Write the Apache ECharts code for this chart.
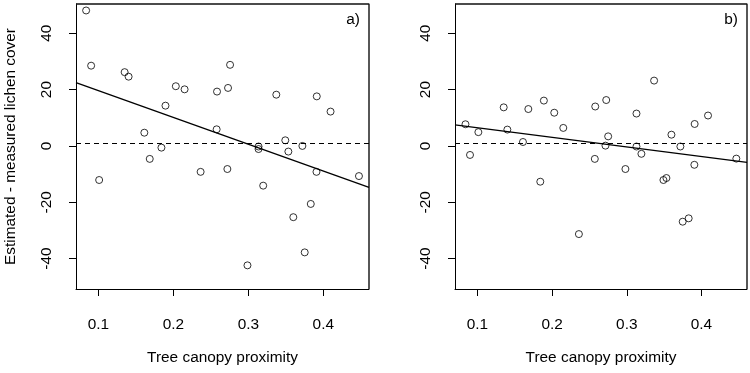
<!DOCTYPE html>
<html>
<head>
<meta charset="utf-8">
<script src="https://cdn.jsdelivr.net/npm/echarts@6/dist/echarts.min.js"></script>
<style>
html,body{margin:0;padding:0;background:#fff;}
#chart{width:750px;height:373px;}
</style>
</head>
<body>
<div id="chart"></div>
<script>
// ---- data ----
const xTicks = [0.1, 0.2, 0.3, 0.4];
const yTicks = [-40, -20, 0, 20, 40];
const xRange = [0.07, 0.461];
const yRange = [-50.8, 50.4];
const refLevel = 0.8; // dashed horizontal line

const pointsA = [
  [0.0835, 48.1], [0.0902, 28.5], [0.1009, -12.1], [0.1349, 26.2], [0.1402, 24.6],
  [0.1612, 4.7], [0.1684, -4.6], [0.1840, -0.6], [0.1894, 14.3], [0.2032, 21.2],
  [0.2149, 20.1], [0.2363, -9.2], [0.2577, 5.9], [0.2582, 19.3], [0.2720, -8.2],
  [0.2729, 20.6], [0.2756, 28.8], [0.2988, -42.4], [0.3136, -0.2], [0.3136, -1.1],
  [0.3198, -14.1], [0.3373, 18.2], [0.3493, 2.0], [0.3534, -2.0], [0.3600, -25.3],
  [0.3721, 0.0], [0.3752, -37.8], [0.3833, -20.6], [0.3909, -9.2], [0.3913, 17.6],
  [0.4097, 12.2], [0.4476, -10.7]
];
const pointsB = [
  [0.0840, 7.7], [0.0901, -3.2], [0.1013, 4.9], [0.1352, 13.7], [0.1401, 5.8],
  [0.1610, 1.4], [0.1682, 13.1], [0.1842, -12.7], [0.1890, 16.1], [0.2029, 11.8],
  [0.2150, 6.4], [0.2359, -31.3], [0.2572, -4.6], [0.2578, 14.0], [0.2715, 0.1],
  [0.2725, 16.3], [0.2751, 3.4], [0.2982, -8.2], [0.3130, 11.5], [0.3130, -0.2],
  [0.3196, -2.8], [0.3366, 23.2], [0.3491, -12.1], [0.3531, -11.4], [0.3598, 4.0],
  [0.3718, -0.2], [0.3749, -26.9], [0.3829, -25.7], [0.3905, -6.7], [0.3909, 7.8],
  [0.4088, 10.8], [0.4467, -4.5]
];
// fitted lines: end points at the plot edges
const fitA = [[0.07, 22.5], [0.461, -14.7]];
const fitB = [[0.07, 7.5], [0.461, -5.8]];

const xTitle = 'Tree canopy proximity';
const yTitle = 'Estimated - measured lichen cover';
const panelLabels = ['a)', 'b)'];

// ---- chart ----
const FONT = 'Liberation Sans, Arial, Helvetica, sans-serif';
const FS = 15.4;
const chart = echarts.init(document.getElementById('chart'), null, {renderer: 'canvas'});
const frameLine = {show: true, onZero: false, lineStyle: {color: '#000', width: 1}};

// top and right edges of the plot box, built from the axis ranges
const frameEdge = [[xRange[0], yRange[1]], [xRange[1], yRange[1]], [xRange[1], yRange[0]]];

function xAxisDef(i) {
  return {
    type: 'value', gridIndex: i, min: xRange[0], max: xRange[1], position: 'bottom',
    name: xTitle, nameLocation: 'middle', nameGap: 61,
    nameTextStyle: {color: '#000', fontFamily: FONT, fontSize: FS},
    axisLine: frameLine,
    axisTick: {show: true, inside: false, length: 7, customValues: xTicks, lineStyle: {color: '#000', width: 1}},
    axisLabel: {show: true, customValues: xTicks, margin: 28, color: '#000', fontFamily: FONT, fontSize: FS,
      formatter: v => v.toFixed(1)},
    splitLine: {show: false}
  };
}
function yAxisDef(i) {
  return {
    type: 'value', gridIndex: i, min: yRange[0], max: yRange[1], position: 'left',
    name: i === 0 ? yTitle : '', nameLocation: 'middle', nameGap: 58, nameRotate: 90,
    nameTextStyle: {color: '#000', fontFamily: FONT, fontSize: FS},
    axisLine: frameLine,
    axisTick: {show: true, inside: false, length: 7, customValues: yTicks, lineStyle: {color: '#000', width: 1}},
    axisLabel: {show: true, customValues: yTicks, rotate: 90, margin: 22, color: '#000', fontFamily: FONT, fontSize: FS},
    splitLine: {show: false}
  };
}
function scatterDef(i, data) {
  return {
    type: 'scatter', xAxisIndex: i, yAxisIndex: i, data: data,
    symbol: 'circle', symbolSize: 7,
    itemStyle: {color: 'rgba(255,255,255,0)', borderColor: '#000', borderWidth: 1},
    silent: true,
    markLine: {
      silent: true, symbol: ['none', 'none'], label: {show: false},
      lineStyle: {color: '#000', width: 1.1, type: [5, 4]},
      data: [{yAxis: refLevel}]
    }
  };
}
function fitDef(i, data) {
  return {
    type: 'line', xAxisIndex: i, yAxisIndex: i, data: data,
    symbol: 'none', silent: true, clip: false,
    lineStyle: {color: '#000', width: 1.3}
  };
}
function frameDef(i) {
  return {
    type: 'line', xAxisIndex: i, yAxisIndex: i, data: frameEdge,
    symbol: 'none', silent: true, clip: false,
    lineStyle: {color: '#111', width: 1.4}
  };
}

chart.setOption({
  animation: false,
  backgroundColor: '#fff',
  textStyle: {fontFamily: FONT},
  title: [
    {text: panelLabels[0], right: 390, top: 12, padding: 0,
      textStyle: {color: '#000', fontFamily: FONT, fontSize: FS, fontWeight: 'normal'}},
    {text: panelLabels[1], right: 12, top: 12, padding: 0,
      textStyle: {color: '#000', fontFamily: FONT, fontSize: FS, fontWeight: 'normal'}}
  ],
  grid: [
    {left: 76, top: 4, width: 293, height: 285},
    {left: 455, top: 4, width: 292, height: 285}
  ],
  xAxis: [xAxisDef(0), xAxisDef(1)],
  yAxis: [yAxisDef(0), yAxisDef(1)],
  series: [
    frameDef(0), frameDef(1),
    scatterDef(0, pointsA), fitDef(0, fitA),
    scatterDef(1, pointsB), fitDef(1, fitB)
  ]
});
</script>
</body>
</html>
